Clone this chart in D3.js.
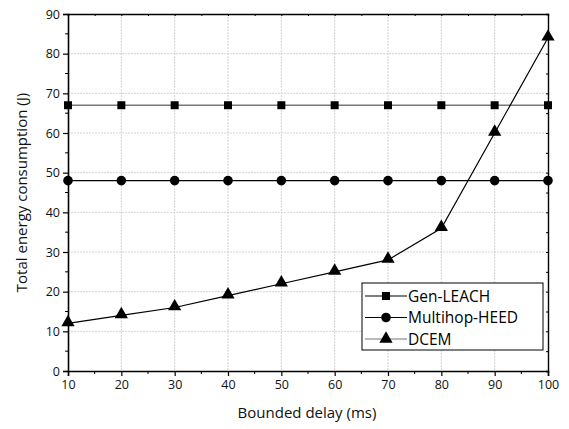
<!DOCTYPE html>
<html><head><meta charset="utf-8">
<script src="https://cdn.jsdelivr.net/npm/d3@7"></script>
<style>body{margin:0;background:#fff}svg{display:block;font-family:"Open Sans",sans-serif}</style>
</head><body><svg id="c" width="569" height="429"></svg>
<script>
const delays = [10,20,30,40,50,60,70,80,90,100];
const genLeach = [67,67,67,67,67,67,67,67,67,67];
const multihopHeed = [48,48,48,48,48,48,48,48,48,48];
const dcem = [12,14,16,19,22,25,28,36,60,84];
const xTicks = [10,20,30,40,50,60,70,80,90,100];
const yTicks = [0,10,20,30,40,50,60,70,80,90];
const seriesNames = ["Gen-LEACH","Multihop-HEED","DCEM"];

const svg = d3.select("#c");
const L=68,R=548,T=14,B=371;
const x = d3.scaleLinear().domain([10,100]).range([L,R]);
const y = d3.scaleLinear().domain([0,90]).range([B,T]);

// grid
const g = svg.append("g");
g.selectAll(".gx").data(xTicks.slice(1,-1)).join("line")
 .attr("x1",d=>x(d)).attr("x2",d=>x(d)).attr("y1",T).attr("y2",B)
 .attr("stroke","#c8c8c8").attr("stroke-width",0.8).attr("stroke-dasharray","2,1");
g.selectAll(".gy").data(yTicks.slice(1,-1)).join("line")
 .attr("y1",d=>y(d)).attr("y2",d=>y(d)).attr("x1",L).attr("x2",R)
 .attr("stroke","#c8c8c8").attr("stroke-width",0.8).attr("stroke-dasharray","2,1");

// axes
const minorX = d3.range(15,100,10);
const minorY = d3.range(5,90,10);
const ax = svg.append("g").attr("transform",`translate(0,${B})`)
 .call(d3.axisBottom(x).tickValues(xTicks).tickSize(5).tickPadding(4));
ax.append("g").selectAll("line").data(minorX).join("line")
 .attr("x1",d=>x(d)).attr("x2",d=>x(d)).attr("y1",0).attr("y2",3).attr("stroke","#000");
const ay = svg.append("g").attr("transform",`translate(${L},0)`)
 .call(d3.axisLeft(y).tickValues(yTicks).tickSize(5).tickPadding(3));
ay.append("g").selectAll("line").data(minorY).join("line")
 .attr("y1",d=>y(d)).attr("y2",d=>y(d)).attr("x1",0).attr("x2",-3).attr("stroke","#000");
[ax,ay].forEach(a=>{a.select(".domain").attr("stroke-width",1.6);
 a.selectAll(".tick line").attr("stroke-width",1.2);
 a.selectAll("text").attr("font-size",12.5).attr("fill","#111").attr("font-family","'Open Sans',sans-serif");});

// top & right frame
const at = svg.append("g").attr("transform",`translate(0,${T})`)
 .call(d3.axisTop(x).tickValues(d3.range(10,101,5)).tickSize(-2).tickFormat(""));
const ar = svg.append("g").attr("transform",`translate(${R},0)`)
 .call(d3.axisRight(y).tickValues(d3.range(0,91,5)).tickSize(-2).tickFormat(""));
[at,ar].forEach(a=>a.select(".domain").attr("stroke-width",1.4));

// lines
const line = d3.line().x((d,i)=>x(delays[i])).y(d=>y(d));
const data=[genLeach,multihopHeed,dcem];
const lineColors=["#777","#000","#000"];
data.forEach((s,k)=>{
 svg.append("path").datum(s).attr("d",line).attr("fill","none")
  .attr("stroke",lineColors[k]).attr("stroke-width",k===0?1.6:1.2);
});
const sym=[d3.symbolSquare,d3.symbolCircle,d3.symbolTriangle];
const sz=[64,72,76];
data.forEach((s,k)=>{
 svg.append("g").selectAll("path").data(s).join("path")
  .attr("d",d3.symbol().type(sym[k]).size(sz[k]))
  .attr("transform",(d,i)=>`translate(${x(delays[i])},${y(d)+(k===2?-1:0)})`)
  .attr("fill","#000");
});

// legend
const lg = svg.append("g").attr("transform","translate(362,283)");
lg.append("rect").attr("width",181).attr("height",67).attr("fill","#fff").attr("stroke","#000").attr("stroke-width",1);
const legColors=["#000","#000","#777"];
seriesNames.forEach((n,k)=>{
 const yy=13+k*21.5;
 lg.append("line").attr("x1",3).attr("x2",45).attr("y1",yy).attr("y2",yy).attr("stroke",legColors[k]).attr("stroke-width",1.2);
 lg.append("path").attr("d",d3.symbol().type(sym[k]).size(sz[k])).attr("transform",`translate(24,${yy})`).attr("fill","#000");
 lg.append("text").attr("x",46).attr("y",yy+5.5).attr("font-size",15.5).attr("fill","#000").text(n);
});

// labels
svg.append("text").attr("x",307).attr("y",418).attr("text-anchor","middle").attr("font-size",15).attr("fill","#111").text("Bounded delay (ms)");
svg.append("text").attr("transform",`translate(27,${(T+B)/2}) rotate(-90)`).attr("text-anchor","middle").attr("font-size",15).attr("fill","#111").text("Total energy consumption (J)");
</script></body></html>
